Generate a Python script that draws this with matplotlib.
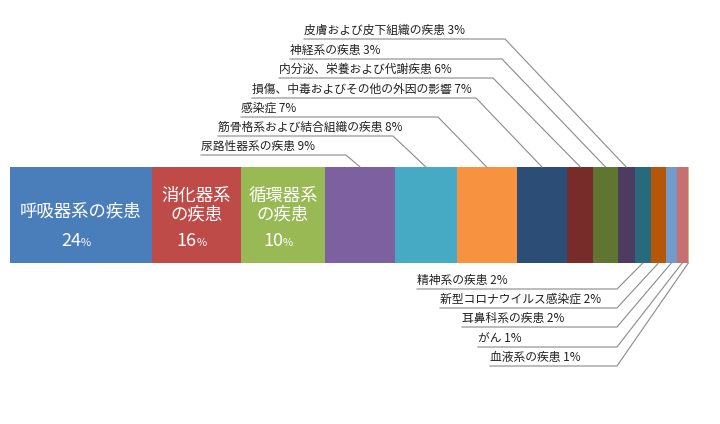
import matplotlib
matplotlib.use("Agg")
import matplotlib.pyplot as plt
import numpy as np

plt.rcParams['font.family'] = ['Noto Sans CJK JP', 'DejaVu Sans']

categories = ["呼吸器系の疾患", "消化器系の疾患", "循環器系の疾患", "尿路性器系の疾患", "筋骨格系および結合組織の疾患",
              "感染症", "損傷、中毒およびその他の外因の影響", "内分泌、栄養および代謝疾患", "神経系の疾患",
              "皮膚および皮下組織の疾患", "精神系の疾患", "新型コロナウイルス感染症", "耳鼻科系の疾患", "がん", "血液系の疾患"]
pct_labels = [24, 16, 10, 9, 8, 7, 7, 6, 3, 3, 2, 2, 2, 1, 1]
# segment shares as drawn (proportional widths)
shares = [20.9, 13.1, 12.4, 10.3, 9.1, 8.8, 7.5, 3.8, 3.6, 2.5, 2.4, 2.2, 1.6, 1.6, 0.2]
colors = ["#4a7ebb", "#be4b48", "#98b954", "#7d60a0", "#46aac5", "#f69240", "#2c4d75", "#772c2a",
          "#5f7530", "#4d3b62", "#276a7c", "#b65708", "#729aca", "#c87070", "#c0c080"]

fig = plt.figure(figsize=(7.2, 4.24), dpi=100)
ax = fig.add_axes([0, 0, 1, 1])
ax.set_xlim(0, 720)
ax.set_ylim(424, 0)
ax.axis('off')

x0, x1 = 10, 689
scale = (x1 - x0) / sum(shares)
lefts = x0 + np.concatenate([[0], np.cumsum(shares)[:-1]]) * scale
widths = np.array(shares) * scale
ytop, ybot = 167, 263
ax.barh((ytop + ybot) / 2, widths, left=lefts, height=ybot - ytop, color=colors, linewidth=0)

# inside labels
inside = [("呼吸器系の疾患", None), ("消化器系\nの疾患", None), ("循環器系\nの疾患", None)]
for i, (txt, _) in enumerate(inside):
    cx = lefts[i] + widths[i] / 2
    if i == 0:
        ax.text(cx, 211, txt, color='white', ha='center', va='center', fontsize=12.5)
        ty = 241
    else:
        ax.text(cx, 205, txt, color='white', ha='center', va='center', fontsize=12.5, linespacing=1.05)
        ty = 241
    ax.text(cx, ty, f"{pct_labels[i]}", color='white', ha='right', va='center', fontsize=13)
    ax.text(cx, ty + 2, "%", color='white', ha='left', va='center', fontsize=8)

line_c = "#8a8a8a"
# top labels: (index, text left, y, underline end)
top = [(3, 201, 155, 346), (4, 218, 136, 393), (5, 241, 117, 438), (6, 252, 98, 476),
       (7, 279, 78, 493), (8, 290, 59, 502), (9, 304, 39, 505)]
for idx, tx, ty, ux in top:
    ax.text(tx, ty - 2, f"{categories[idx]} {pct_labels[idx]}%", fontsize=8.5, ha='left', va='bottom', color='#222')
    cx = lefts[idx] + widths[idx] / 2
    ax.plot([tx, ux, cx], [ty, ty, ytop], color=line_c, lw=0.8)

bottom = [(10, 417, 289), (11, 440, 308), (12, 462, 327), (13, 478, 347), (14, 490, 366)]
for idx, tx, ty in bottom:
    ax.text(tx, ty - 2, f"{categories[idx]} {pct_labels[idx]}%", fontsize=8.5, ha='left', va='bottom', color='#222')
    cx = lefts[idx] + widths[idx] / 2
    ax.plot([tx, 617, cx], [ty, ty, ybot], color=line_c, lw=0.8)

fig.savefig("out.png", dpi=100)
